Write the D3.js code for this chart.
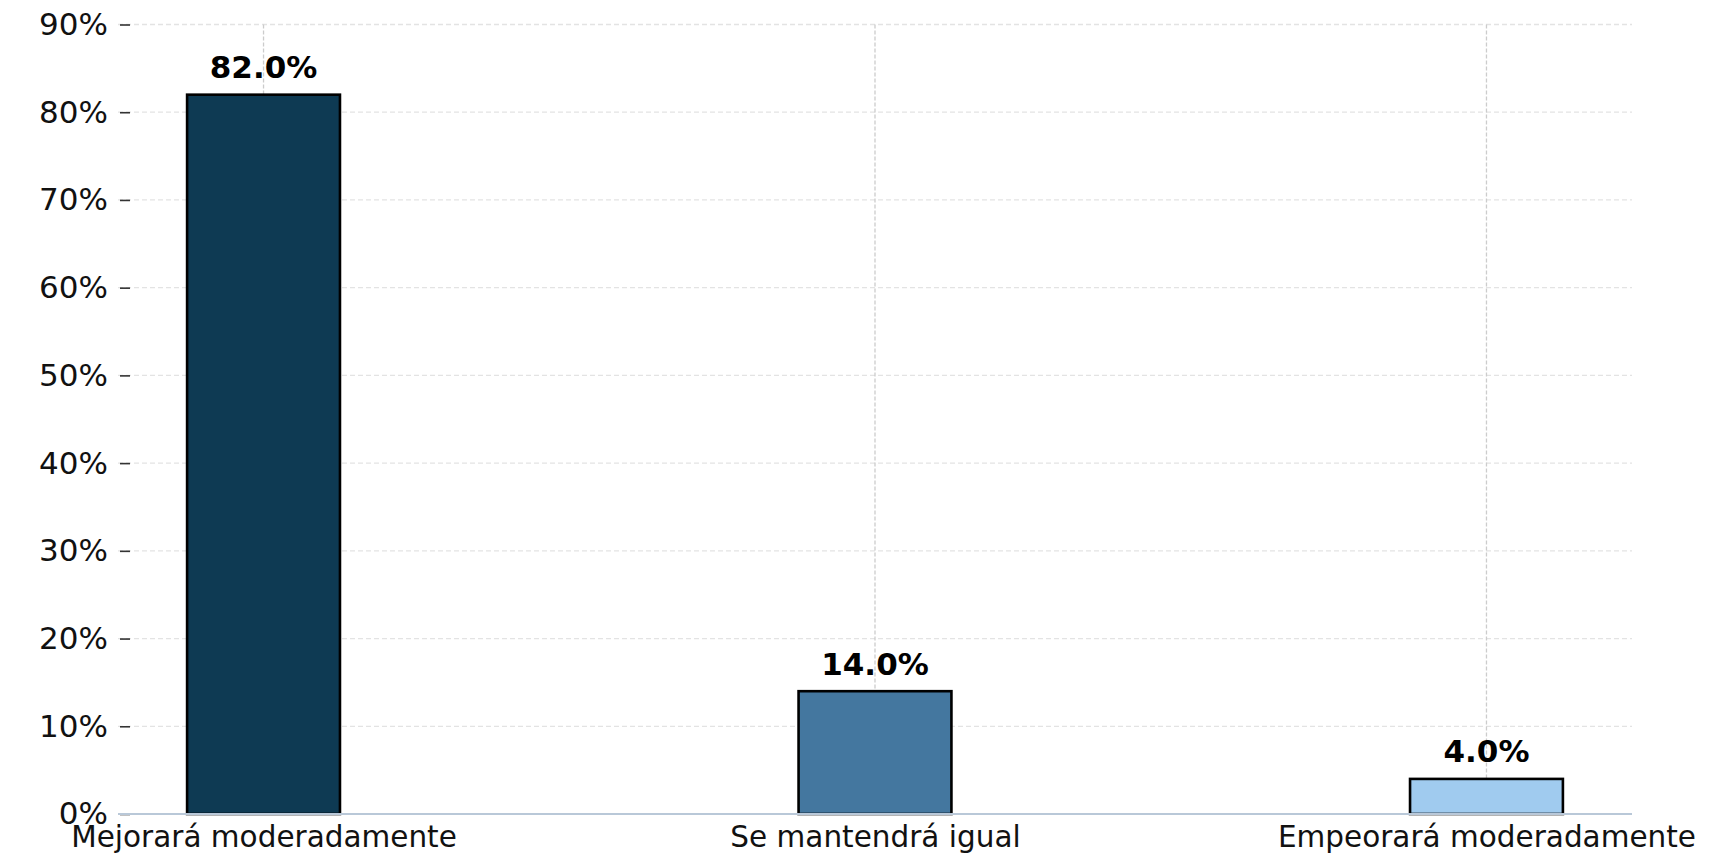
<!DOCTYPE html>
<html>
<head>
<meta charset="utf-8">
<script src="https://cdn.jsdelivr.net/npm/d3@7"></script>
<style>
  html, body { margin: 0; padding: 0; background: #ffffff; }
  svg { display: block; font-family: "DejaVu Sans", sans-serif; }
</style>
</head>
<body>
<svg id="chart" width="1736" height="856"></svg>
<script>
const categories = ["Mejorará moderadamente", "Se mantendrá igual", "Empeorará moderadamente"];
const values = [82.0, 14.0, 4.0];
const colors = ["#0e3a53", "#44779f", "#a0cbef"];
const yTicks = [0, 10, 20, 30, 40, 50, 60, 70, 80, 90];

(function () {
const svg = d3.select("#chart");
const mLeft = 118, mRight = 1632, mTop = 24.5, mBottom = 814;

const x = d3.scalePoint().domain(categories).range([mLeft, mRight]).padding(0.238);
const step = x.step();
const barW = step * 0.25;
const y = d3.scaleLinear().domain([0, 90]).range([mBottom, mTop]);

// horizontal grid
svg.append("g").selectAll("line").data(yTicks).join("line")
  .attr("x1", mLeft).attr("x2", mRight)
  .attr("y1", d => y(d)).attr("y2", d => y(d))
  .attr("stroke", "#e3e3e3").attr("stroke-width", 1.3)
  .attr("stroke-dasharray", "5,3");

// vertical grid
svg.append("g").selectAll("line").data(categories).join("line")
  .attr("x1", d => x(d)).attr("x2", d => x(d))
  .attr("y1", mTop).attr("y2", mBottom)
  .attr("stroke", "#cccccc").attr("stroke-width", 1.3)
  .attr("stroke-dasharray", "4,2");

// y axis (ticks + labels, no spine)
const yAxis = d3.axisLeft(y).tickValues(yTicks).tickFormat(d => d + "%").tickSize(10).tickPadding(12);
const yg = svg.append("g").attr("transform", `translate(${mLeft + 12},0)`).call(yAxis);
yg.select(".domain").remove();
yg.selectAll(".tick line").attr("stroke", "#333").attr("stroke-width", 1.6);
yg.selectAll(".tick text").attr("font-size", 31).attr("fill", "#111").attr("font-family", "DejaVu Sans");

// bars
svg.append("g").selectAll("rect").data(values).join("rect")
  .attr("x", (d, i) => x(categories[i]) - barW / 2)
  .attr("width", barW)
  .attr("y", d => y(d))
  .attr("height", d => y(0) - y(d))
  .attr("fill", (d, i) => colors[i])
  .attr("stroke", "#000").attr("stroke-width", 2.6);

// x axis line
svg.append("line").attr("x1", mLeft).attr("x2", mRight).attr("y1", mBottom).attr("y2", mBottom)
  .attr("stroke", "#b9c8d8").attr("stroke-width", 2.2);

// x tick labels
const xAxis = d3.axisBottom(x).tickSize(0).tickPadding(12);
const xg = svg.append("g").attr("transform", `translate(0,${mBottom})`).call(xAxis);
xg.select(".domain").remove();
xg.selectAll(".tick text").attr("font-size", 29.5).attr("fill", "#111").attr("font-family", "DejaVu Sans");

// value labels
svg.append("g").selectAll("text").data(values).join("text")
  .attr("x", (d, i) => x(categories[i]))
  .attr("y", d => y(d) - 16.5)
  .attr("text-anchor", "middle")
  .attr("font-size", 31).attr("font-weight", "bold").attr("fill", "#000")
  .text(d => d.toFixed(1) + "%");
})();
</script>
</body>
</html>
